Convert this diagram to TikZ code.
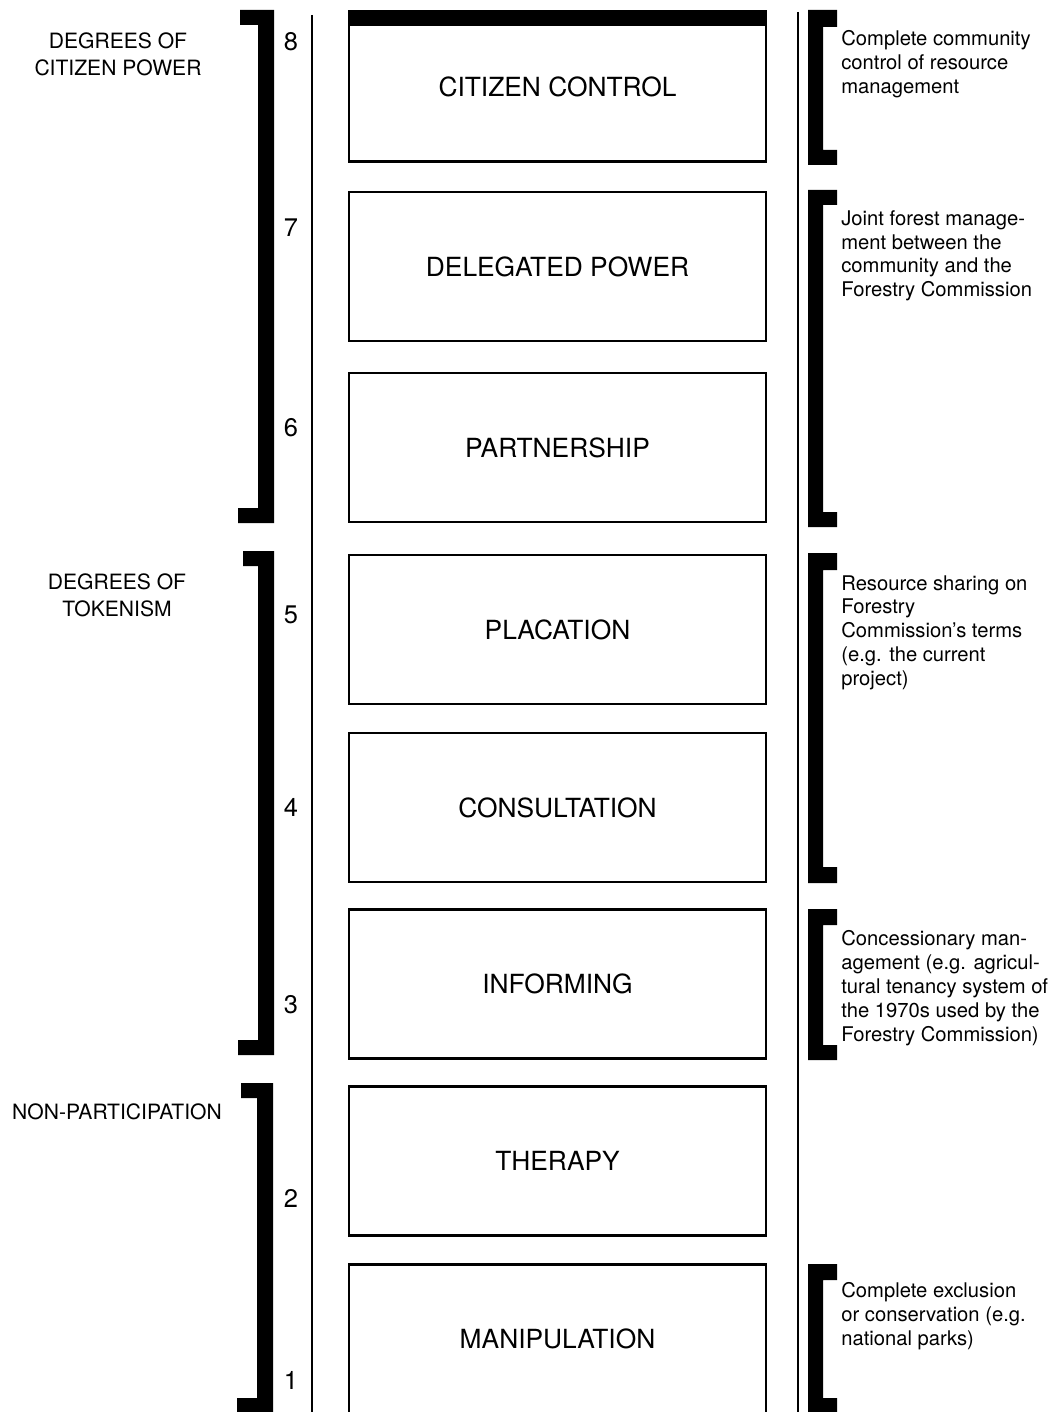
\documentclass[tikz,border=0pt]{standalone}
\usepackage{fontspec}
\setmainfont{TeX Gyre Heros}
\usetikzlibrary{positioning}

\tikzset{
  rung/.style={draw, line width=1.2pt, minimum width=8.34cm, minimum height=2.98cm,
    inner sep=0pt, font=\fontsize{15}{18}\selectfont},
  rungnum/.style={inner sep=0pt, font=\fontsize{14.5}{17}\selectfont},
  grouplabel/.style={align=center, inner sep=0pt, font=\fontsize{12}{15.3}\selectfont},
  note/.style={align=left, anchor=north west, inner sep=0pt, font=\fontsize{11.5}{13.6}\selectfont},
  bracket/.style={fill=black},
  rail/.style={line width=1.1pt}
}

\begin{document}
\begin{tikzpicture}[x=0.02cm, y=-0.02cm]
\useasboundingbox (0,0) rectangle (1054,1412);

% the ladder
\node[rung] (citizencontrol) at (557.5,87) {CITIZEN CONTROL};
\node[rung] (delegatedpower) at (557.5,266.5) {DELEGATED POWER};
\node[rung] (partnership) at (557.5,447.5) {PARTNERSHIP};
\node[rung] (placation) at (557.5,629.5) {PLACATION};
\node[rung] (consultation) at (557.5,807.5) {CONSULTATION};
\node[rung] (informing) at (557.5,984) {INFORMING};
\node[rung] (therapy) at (557.5,1161) {THERAPY};
\node[rung] (manipulation) at (557.5,1339) {MANIPULATION};
\fill (348,10) rectangle (767,26);

% rails
\coordinate (lefttop) at (312,15);
\coordinate (leftbot) at (312,1412);
\coordinate (righttop) at (798,12);
\coordinate (rightbot) at (798,1412);
\draw[rail] (lefttop) -- (leftbot);
\draw[rail] (righttop) -- (rightbot);

% rung numbers
\node[rungnum] (num8) at (291,42) {8};
\node[rungnum] (num7) at (291,228) {7};
\node[rungnum] (num6) at (291,428) {6};
\node[rungnum] (num5) at (291,615) {5};
\node[rungnum] (num4) at (291,807) {4};
\node[rungnum] (num3) at (291,1005) {3};
\node[rungnum] (num2) at (291,1198) {2};
\node[rungnum] (num1) at (291,1380) {1};

% left brackets
\fill[bracket] (240,10) -- (274,10) -- (274,523) -- (238,523) -- (238,508) -- (258,508) -- (258,25) -- (240,25) -- cycle;
\fill[bracket] (243,551) -- (274,551) -- (274,1055) -- (238,1055) -- (238,1040) -- (258,1040) -- (258,566) -- (243,566) -- cycle;
\fill[bracket] (241,1083) -- (273,1083) -- (273,1412) -- (237,1412) -- (237,1398) -- (257,1398) -- (257,1098) -- (241,1098) -- cycle;

\node[grouplabel] (citizenpower) at (118,54) {DEGREES OF\\CITIZEN POWER};
\node[grouplabel] (tokenism) at (117,595) {DEGREES OF\\TOKENISM};
\node[grouplabel] (nonpart) at (117,1112) {NON-PARTICIPATION};

% right brackets
\fill[bracket] (808,10) -- (837,10) -- (837,27) -- (823,27) -- (823,150) -- (837,150) -- (837,165) -- (808,165) -- cycle;
\fill[bracket] (808,190) -- (837,190) -- (837,205) -- (823,205) -- (823,512) -- (837,512) -- (837,527) -- (808,527) -- cycle;
\fill[bracket] (808,553) -- (837,553) -- (837,570) -- (823,570) -- (823,867) -- (837,867) -- (837,883) -- (808,883) -- cycle;
\fill[bracket] (808,909) -- (837,909) -- (837,925) -- (823,925) -- (823,1045) -- (837,1045) -- (837,1060) -- (808,1060) -- cycle;
\fill[bracket] (808,1264) -- (837,1264) -- (837,1280) -- (823,1280) -- (823,1398) -- (837,1398) -- (837,1412) -- (808,1412) -- cycle;

\node[note] (control) at (841,30) {Complete community\\control of resource\\management};
\node[note] (jointforest) at (841,210) {Joint forest manage-\\ment between the\\community and the\\Forestry Commission};
\node[note] (sharing) at (841,575) {Resource sharing on\\Forestry\\Commission's terms\\(e.g. the current\\project)};
\node[note] (concession) at (841,930) {Concessionary man-\\agement (e.g. agricul-\\tural tenancy system of\\the 1970s used by the\\Forestry Commission)};
\node[note] (exclusion) at (841,1282) {Complete exclusion\\or conservation (e.g.\\national parks)};

\end{tikzpicture}
\end{document}
